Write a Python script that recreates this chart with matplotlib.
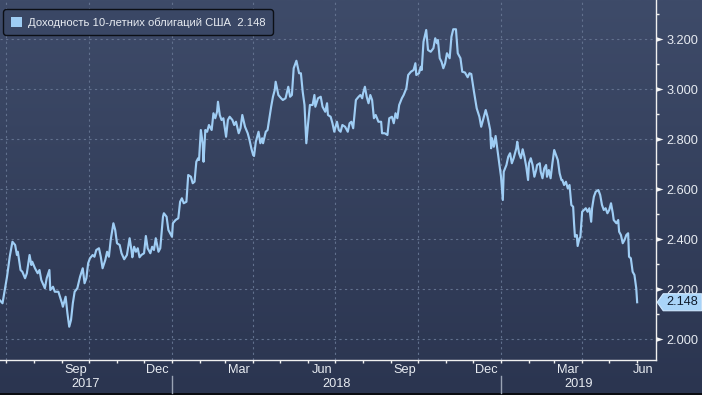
import matplotlib
matplotlib.use("Agg")
import matplotlib.pyplot as plt
import matplotlib.dates as mdates
import matplotlib.transforms as mtransforms
from matplotlib.patches import Polygon, Patch, Rectangle
from matplotlib.lines import Line2D
from matplotlib.path import Path
from matplotlib.colors import LinearSegmentedColormap
from matplotlib.ticker import FixedLocator, FixedFormatter, NullFormatter, MultipleLocator, FormatStrFormatter
import numpy as np
import pandas as pd

# ---------------- data (US 10y Treasury yield, %) ----------------
dates_2017 = [
    "2017-06-23", "2017-06-27",
    "2017-07-02", "2017-07-05", "2017-07-08", "2017-07-11", "2017-07-13", "2017-07-14", "2017-07-17", "2017-07-19",
    "2017-07-22", "2017-07-24", "2017-07-27", "2017-07-29", "2017-07-30",
    "2017-08-02", "2017-08-05", "2017-08-07", "2017-08-09", "2017-08-13", "2017-08-15", "2017-08-18", "2017-08-19",
    "2017-08-22", "2017-08-24", "2017-08-28",
    "2017-09-01", "2017-09-02", "2017-09-05", "2017-09-07", "2017-09-09", "2017-09-11", "2017-09-13", "2017-09-15",
    "2017-09-18", "2017-09-21", "2017-09-24", "2017-09-26", "2017-09-28", "2017-09-30",
    "2017-10-02", "2017-10-05", "2017-10-07", "2017-10-09", "2017-10-12", "2017-10-14", "2017-10-16", "2017-10-19",
    "2017-10-21", "2017-10-23", "2017-10-25", "2017-10-28", "2017-10-30",
    "2017-11-01", "2017-11-04", "2017-11-06", "2017-11-09", "2017-11-12", "2017-11-15", "2017-11-17", "2017-11-18",
    "2017-11-20", "2017-11-22", "2017-11-24", "2017-11-26", "2017-11-28",
    "2017-12-01", "2017-12-03", "2017-12-05", "2017-12-08", "2017-12-10", "2017-12-12", "2017-12-14", "2017-12-17",
    "2017-12-19", "2017-12-22", "2017-12-23", "2017-12-26", "2017-12-28", "2017-12-31",
]
yields_2017 = [
    2.160, 2.144,
    2.250, 2.330, 2.390, 2.377, 2.337, 2.350, 2.277, 2.270,
    2.244, 2.264, 2.337, 2.297, 2.310,
    2.284, 2.264, 2.277, 2.237, 2.204, 2.244, 2.277, 2.197,
    2.210, 2.190, 2.190,
    2.144, 2.130, 2.170, 2.104, 2.050, 2.077, 2.144, 2.190,
    2.204, 2.250, 2.284, 2.224, 2.244, 2.304,
    2.324, 2.337, 2.330, 2.357, 2.364, 2.330, 2.284, 2.317,
    2.350, 2.330, 2.397, 2.464, 2.437,
    2.384, 2.377, 2.344, 2.320, 2.337, 2.404, 2.357, 2.328,
    2.370, 2.350, 2.364, 2.328, 2.337,
    2.344, 2.413, 2.364, 2.344, 2.370, 2.357, 2.404, 2.350,
    2.364, 2.490, 2.504, 2.490, 2.437, 2.417,
]

dates_2018 = [
    "2018-01-01", "2018-01-02", "2018-01-05", "2018-01-08", "2018-01-10", "2018-01-12", "2018-01-14", "2018-01-17",
    "2018-01-19", "2018-01-22", "2018-01-24", "2018-01-26", "2018-01-28", "2018-01-30", "2018-01-31",
    "2018-02-02", "2018-02-04", "2018-02-05", "2018-02-07", "2018-02-09", "2018-02-11", "2018-02-14", "2018-02-16",
    "2018-02-18", "2018-02-20", "2018-02-21", "2018-02-23", "2018-02-25", "2018-02-27",
    "2018-03-02", "2018-03-04", "2018-03-06", "2018-03-09", "2018-03-11", "2018-03-13", "2018-03-16", "2018-03-18",
    "2018-03-20", "2018-03-23", "2018-03-26", "2018-03-28", "2018-03-30",
    "2018-04-01", "2018-04-02", "2018-04-04", "2018-04-07", "2018-04-09", "2018-04-11", "2018-04-12", "2018-04-15",
    "2018-04-17", "2018-04-19", "2018-04-21", "2018-04-23", "2018-04-25", "2018-04-26", "2018-04-29",
    "2018-05-02", "2018-05-04", "2018-05-07", "2018-05-10", "2018-05-12", "2018-05-14", "2018-05-16", "2018-05-19",
    "2018-05-22", "2018-05-24", "2018-05-26", "2018-05-28", "2018-05-30",
    "2018-06-01", "2018-06-03", "2018-06-06", "2018-06-08", "2018-06-09", "2018-06-12", "2018-06-15", "2018-06-17",
    "2018-06-20", "2018-06-22", "2018-06-23", "2018-06-26", "2018-06-28", "2018-06-30",
    "2018-07-03", "2018-07-05", "2018-07-07", "2018-07-09", "2018-07-12", "2018-07-15", "2018-07-17", "2018-07-19",
    "2018-07-21", "2018-07-24", "2018-07-27", "2018-07-29", "2018-07-31",
    "2018-08-01", "2018-08-03", "2018-08-05", "2018-08-07", "2018-08-09", "2018-08-11", "2018-08-13", "2018-08-15",
    "2018-08-18", "2018-08-21", "2018-08-22", "2018-08-25", "2018-08-28", "2018-08-30",
    "2018-09-02", "2018-09-04", "2018-09-06", "2018-09-08", "2018-09-10", "2018-09-13", "2018-09-15", "2018-09-18",
    "2018-09-20", "2018-09-23", "2018-09-26", "2018-09-28", "2018-09-29",
    "2018-10-02", "2018-10-04", "2018-10-05", "2018-10-07", "2018-10-10", "2018-10-12", "2018-10-15", "2018-10-18",
    "2018-10-20", "2018-10-22", "2018-10-23", "2018-10-25", "2018-10-27", "2018-10-29", "2018-10-31",
    "2018-11-02", "2018-11-05", "2018-11-07", "2018-11-09", "2018-11-12", "2018-11-14", "2018-11-17", "2018-11-19",
    "2018-11-22", "2018-11-25", "2018-11-27", "2018-11-29",
    "2018-12-02", "2018-12-05", "2018-12-08", "2018-12-10", "2018-12-12", "2018-12-15", "2018-12-17", "2018-12-20",
    "2018-12-21", "2018-12-22", "2018-12-24", "2018-12-26", "2018-12-28", "2018-12-30",
]
yields_2018 = [
    2.410, 2.464, 2.477, 2.484, 2.550, 2.564, 2.544, 2.550,
    2.657, 2.650, 2.624, 2.630, 2.710, 2.724, 2.717,
    2.837, 2.784, 2.710, 2.837, 2.830, 2.857, 2.837, 2.904,
    2.884, 2.910, 2.950, 2.897, 2.877, 2.884,
    2.810, 2.877, 2.890, 2.877, 2.857, 2.870, 2.824, 2.844,
    2.897, 2.850, 2.824, 2.797, 2.764,
    2.737, 2.733, 2.790, 2.830, 2.784, 2.804, 2.784, 2.830,
    2.837, 2.884, 2.930, 2.970, 2.997, 3.030, 2.977,
    2.964, 2.957, 2.964, 3.010, 2.970, 2.977, 3.084, 3.114,
    3.064, 3.064, 2.990, 2.937, 2.784,
    2.864, 2.937, 2.937, 2.977, 2.930, 2.964, 2.970, 2.930,
    2.910, 2.944, 2.897, 2.890, 2.864, 2.830,
    2.870, 2.837, 2.830, 2.857, 2.850, 2.830, 2.864, 2.870,
    2.844, 2.957, 2.970, 2.977, 2.964,
    2.984, 3.010, 2.970, 2.944, 2.977, 2.957, 2.884, 2.897,
    2.870, 2.870, 2.824, 2.824, 2.817, 2.884,
    2.890, 2.864, 2.904, 2.884, 2.937, 2.964, 2.977, 3.004,
    3.057, 3.070, 3.077, 3.104, 3.057,
    3.064, 3.090, 3.077, 3.190, 3.237, 3.157, 3.150, 3.164,
    3.204, 3.184, 3.197, 3.124, 3.110, 3.084, 3.104,
    3.144, 3.124, 3.210, 3.240, 3.240, 3.144, 3.124, 3.070,
    3.067, 3.048, 3.064, 3.061,
    2.990, 2.924, 2.890, 2.850, 2.877, 2.917, 2.890, 2.837,
    2.764, 2.804, 2.770, 2.813, 2.757, 2.704,
]

dates_2019 = [
    "2019-01-01", "2019-01-03", "2019-01-04", "2019-01-07", "2019-01-09", "2019-01-11", "2019-01-13", "2019-01-15",
    "2019-01-18", "2019-01-19", "2019-01-21", "2019-01-23", "2019-01-25", "2019-01-27", "2019-01-29", "2019-01-31",
    "2019-02-01", "2019-02-03", "2019-02-05", "2019-02-07", "2019-02-09", "2019-02-10", "2019-02-13", "2019-02-14",
    "2019-02-16", "2019-02-18", "2019-02-20", "2019-02-21", "2019-02-23", "2019-02-25", "2019-02-27",
    "2019-03-01", "2019-03-03", "2019-03-05", "2019-03-07", "2019-03-09", "2019-03-10", "2019-03-12", "2019-03-14",
    "2019-03-16", "2019-03-18", "2019-03-20", "2019-03-22", "2019-03-23", "2019-03-24", "2019-03-26", "2019-03-27",
    "2019-03-29", "2019-03-30",
    "2019-04-01", "2019-04-03", "2019-04-05", "2019-04-07", "2019-04-09", "2019-04-11", "2019-04-12", "2019-04-14",
    "2019-04-16", "2019-04-19", "2019-04-21", "2019-04-23", "2019-04-25", "2019-04-27", "2019-04-29",
    "2019-05-01", "2019-05-03", "2019-05-05", "2019-05-06", "2019-05-09", "2019-05-11", "2019-05-12", "2019-05-14",
    "2019-05-16", "2019-05-18", "2019-05-20", "2019-05-22", "2019-05-23", "2019-05-25", "2019-05-27", "2019-05-29",
    "2019-05-31", "2019-06-01",
]
yields_2019 = [
    2.650, 2.557, 2.670, 2.697, 2.730, 2.744, 2.704, 2.724,
    2.764, 2.790, 2.744, 2.724, 2.760, 2.730, 2.690, 2.637,
    2.704, 2.724, 2.697, 2.650, 2.677, 2.697, 2.704, 2.670,
    2.644, 2.684, 2.697, 2.650, 2.677, 2.644, 2.704,
    2.757, 2.737, 2.717, 2.664, 2.637, 2.637, 2.617, 2.630,
    2.604, 2.617, 2.537, 2.530, 2.464, 2.410, 2.417, 2.373,
    2.404, 2.408,
    2.510, 2.517, 2.524, 2.510, 2.524, 2.470, 2.524, 2.570,
    2.590, 2.597, 2.577, 2.537, 2.517, 2.524, 2.504,
    2.517, 2.544, 2.504, 2.477, 2.464, 2.477, 2.430, 2.417,
    2.384, 2.397, 2.417, 2.424, 2.330, 2.324, 2.270, 2.257,
    2.204, 2.148,
]

series_label = "Доходность 10-летних облигаций США"
y_ticks = [2.0, 2.2, 2.4, 2.6, 2.8, 3.0, 3.2]
month_labels = ["Sep", "Dec", "Mar", "Jun", "Sep", "Dec", "Mar", "Jun"]
month_label_dates = ["2017-09-16", "2017-12-16", "2018-03-16", "2018-06-16",
                     "2018-09-16", "2018-12-16", "2019-03-16", "2019-06-08"]
year_labels = ["2017", "2018", "2019"]

# ---------------- style ----------------
plt.rcParams['font.family'] = ['Liberation Sans', 'DejaVu Sans']
LINE = '#9fcdf4'
TXT = '#e8ecf2'
GRID = '#62718e'

dates = pd.to_datetime(dates_2017 + dates_2018 + dates_2019)
values = np.array(yields_2017 + yields_2018 + yields_2019)
last = values[-1]

W, H = 702, 395
fig = plt.figure(figsize=(W / 100, H / 100), dpi=100)

# background gradient
bg = fig.add_axes([0, 0, 1, 1], zorder=-10)
cmap = LinearSegmentedColormap.from_list('bg', ['#2b3550', '#3e4b69'])
bg.imshow(np.linspace(0, 1, 256).reshape(-1, 1), aspect='auto', cmap=cmap,
          origin='lower', extent=[0, 1, 0, 1])
bg.set_axis_off()

ax_right_px, ax_bottom_px = 655.7, 360
ax = fig.add_axes([0, 1 - ax_bottom_px / H, ax_right_px / W, ax_bottom_px / H])
ax.set_facecolor('none')

ax.plot(dates, values, color=LINE, lw=1.55, solid_joinstyle='round', zorder=3)

x0 = pd.Timestamp("2017-06-24 05:00")
x1 = pd.Timestamp("2019-06-21 14:00")
ax.set_xlim(x0, x1)
ax.set_ylim(1.917, 3.357)

for s in ['left', 'top']:
    ax.spines[s].set_visible(False)
for s in ['right', 'bottom']:
    ax.spines[s].set_color('#f0f0f0')
    ax.spines[s].set_linewidth(1.0)

# y axis on the right
ax.yaxis.tick_right()
ax.yaxis.set_major_locator(FixedLocator(y_ticks))
ax.yaxis.set_major_formatter(FormatStrFormatter('%.3f'))
ax.yaxis.set_minor_locator(MultipleLocator(0.1))
ax.tick_params(axis='y', which='major', length=0, pad=7.5, labelsize=9.2, labelcolor=TXT)
ax.tick_params(axis='y', which='minor', length=2.5, width=1, color='#f0f0f0', direction='out')
ax.yaxis.grid(True, which='major', color=GRID, lw=0.8, ls=(0, (2, 3)))

# triangular major tick markers
tri = Path([(0, -0.34), (1, 0), (0, 0.34), (0, -0.34)],
           [Path.MOVETO, Path.LINETO, Path.LINETO, Path.CLOSEPOLY])
ax.plot([1.0] * len(y_ticks), y_ticks, linestyle='none', marker=tri, markersize=10,
        color='#f4f4f4', markeredgewidth=0, transform=ax.get_yaxis_transform(), clip_on=False, zorder=5)

# x axis
ax.xaxis.set_major_locator(mdates.MonthLocator())
ax.xaxis.set_major_formatter(NullFormatter())
ax.xaxis.set_minor_locator(FixedLocator(mdates.date2num(pd.to_datetime(month_label_dates))))
ax.xaxis.set_minor_formatter(FixedFormatter(month_labels))
ax.tick_params(axis='x', which='major', length=2.5, width=1, color='#f0f0f0', direction='out')
ax.tick_params(axis='x', which='minor', length=0, pad=3, labelsize=9.2, labelcolor=TXT)

# quarterly vertical grid
for q in pd.date_range("2017-07-01", "2019-04-01", freq="QS"):
    ax.axvline(q, color=GRID, lw=0.8, ls=(0, (2, 3)), zorder=1)

# year labels and separators
xtrans = mtransforms.blended_transform_factory(ax.transData, fig.transFigure)
year_starts = [pd.Timestamp("2018-01-01"), pd.Timestamp("2019-01-01")]
bounds = [x0] + year_starts + [x1]
for i, lab in enumerate(year_labels):
    mid = bounds[i] + (bounds[i + 1] - bounds[i]) / 2
    fig.text(mdates.date2num(mid), (H - 384) / H, lab, transform=xtrans,
             ha='center', va='center', fontsize=9.2, color=TXT)
for ys in year_starts:
    fig.add_artist(Line2D([mdates.date2num(ys)] * 2, [(H - 376) / H, (H - 393) / H],
                          transform=xtrans, color='#9aa3b4', lw=1))
fig.add_artist(Rectangle((0, 0), 1, 2.2 / H, transform=fig.transFigure,
                         facecolor='#0b0d12', edgecolor='none'))

# legend
leg = ax.legend(handles=[Patch(facecolor=LINE, edgecolor='none')],
                labels=[f"{series_label}  {last:.3f}"],
                loc='upper left', bbox_to_anchor=(3 / ax_right_px, 1 - 9 / ax_bottom_px),
                borderaxespad=0, fontsize=8.1, handlelength=0.95, handleheight=0.95,
                handletextpad=0.55, borderpad=0.7, fancybox=True, framealpha=1,
                facecolor='#3a4765', edgecolor='#0c0f16')
leg.get_frame().set_linewidth(1.0)
leg.get_frame().set_boxstyle('round,pad=0,rounding_size=0.3')
for t in leg.get_texts():
    t.set_color(TXT)

# last value tag
tag_trans = fig.dpi_scale_trans + mtransforms.ScaledTranslation(1.0, last, ax.get_yaxis_transform())
px = 1 / 100
tag = Polygon([(1.5 * px, 0), (7.5 * px, 8.5 * px), (46 * px, 8.5 * px),
               (46 * px, -8.5 * px), (7.5 * px, -8.5 * px)], closed=True,
              transform=tag_trans, facecolor='#a9d4f8', edgecolor='#cfe8ff', lw=0.8,
              clip_on=False, zorder=6)
fig.add_artist(tag)
fig.text(26.5 * px, 0, f"{last:.3f}", transform=tag_trans, ha='center', va='center',
         fontsize=9.2, color='#0e1a2c', zorder=7)

fig.savefig("out.png", dpi=100)
